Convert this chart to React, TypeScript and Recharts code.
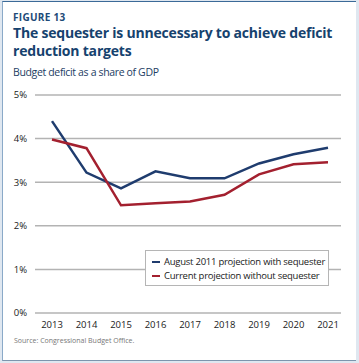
import { CartesianGrid, Line, LineChart, XAxis, YAxis } from "recharts";

const years = ["2013", "2014", "2015", "2016", "2017", "2018", "2019", "2020", "2021"];
const withSequester = [4.4, 3.22, 2.86, 3.25, 3.09, 3.09, 3.43, 3.64, 3.79];
const withoutSequester = [3.98, 3.78, 2.47, 2.52, 2.56, 2.71, 3.18, 3.41, 3.46];
const yTicks = [0, 1, 2, 3, 4, 5];

const seriesNames = {
  withSequester: "August 2011 projection with sequester",
  withoutSequester: "Current projection without sequester",
};

const data = years.map((year, i) => ({
  year,
  withSequester: withSequester[i],
  withoutSequester: withoutSequester[i],
}));

const BLUE = "#1f3c6e";
const RED = "#a3202f";
const FONT = "'Open Sans', sans-serif";

const legendItems = [
  { name: seriesNames.withSequester, color: BLUE },
  { name: seriesNames.withoutSequester, color: RED },
];

export default function App() {
  return (
    <div
      style={{
        position: "absolute",
        left: 0,
        top: 0,
        width: 359,
        height: 363,
        background: "#dfe7f0",
        fontFamily: FONT,
      }}
    >
      <div
        style={{
          position: "absolute",
          left: 2,
          top: 1,
          width: 353,
          height: 358,
          background: "#fff",
          borderTop: "1.5px solid #3b6a98",
          borderLeft: "1px solid #8aa9c8",
          borderBottom: "1.5px solid #7d95ad",
        }}
      />
      <div
        style={{
          position: "absolute",
          left: 13,
          top: 10,
          fontSize: 10,
          fontWeight: 700,
          color: "#1d4a78",
          letterSpacing: 0.3,
        }}
      >
        FIGURE 13
      </div>
      <div
        style={{
          position: "absolute",
          left: 13,
          top: 24,
          width: 330,
          fontSize: 14,
          fontWeight: 700,
          color: "#16426e",
          lineHeight: "18px",
          letterSpacing: -0.2,
        }}
      >
        The sequester is unnecessary to achieve deficit reduction targets
      </div>
      <div
        style={{
          position: "absolute",
          left: 13,
          top: 65,
          fontSize: 10.5,
          letterSpacing: -0.35,
          color: "#1c3d63",
        }}
      >
        Budget deficit as a share of GDP
      </div>
      <div style={{ position: "absolute", left: 0, top: 80 }}>
        <LineChart
          width={359}
          height={260}
          data={data}
          margin={{ top: 15, right: 18, bottom: 7, left: 0 }}
        >
          <CartesianGrid vertical={false} stroke="#b3b3b3" strokeWidth={1.5} />
          <XAxis
            dataKey="year"
            axisLine={false}
            tickLine={false}
            padding={{ left: 17, right: 13 }}
            height={20}
            tick={{ fontSize: 9.5, fill: "#1a1a1a", fontFamily: FONT }}
            tickMargin={2}
            interval={0}
          />
          <YAxis
            domain={[0, 5]}
            ticks={yTicks}
            width={35}
            axisLine={false}
            tickLine={false}
            tickFormatter={(v) => `${v}%`}
            tick={{ fontSize: 9.5, fill: "#1a1a1a", fontFamily: FONT }}
            tickMargin={2}
          />
          <Line
            dataKey="withSequester"
            name={seriesNames.withSequester}
            stroke={BLUE}
            strokeWidth={2.5}
            dot={false}
            isAnimationActive={false}
          />
          <Line
            dataKey="withoutSequester"
            name={seriesNames.withoutSequester}
            stroke={RED}
            strokeWidth={2.5}
            dot={false}
            isAnimationActive={false}
          />
        </LineChart>
      </div>
      <div
        style={{
          position: "absolute",
          left: 145,
          top: 250,
          width: 184,
          height: 36,
          boxSizing: "border-box",
          border: "1px solid #b5b5b5",
          background: "#fff",
          padding: "4px 0 0 6px",
          fontSize: 9.5,
          letterSpacing: -0.25,
          color: "#1a1a1a",
          lineHeight: "14px",
        }}
      >
        {legendItems.map((p) => (
          <div key={p.name} style={{ display: "flex", alignItems: "center" }}>
            <span
              style={{
                display: "inline-block",
                width: 8,
                height: 2.5,
                background: p.color,
                marginRight: 4,
              }}
            />
            {p.name}
          </div>
        ))}
      </div>
      <div
        style={{
          position: "absolute",
          left: 14,
          top: 336,
          fontSize: 7,
          color: "#777",
        }}
      >
        Source: Congressional Budget Office.
      </div>
    </div>
  );
}
